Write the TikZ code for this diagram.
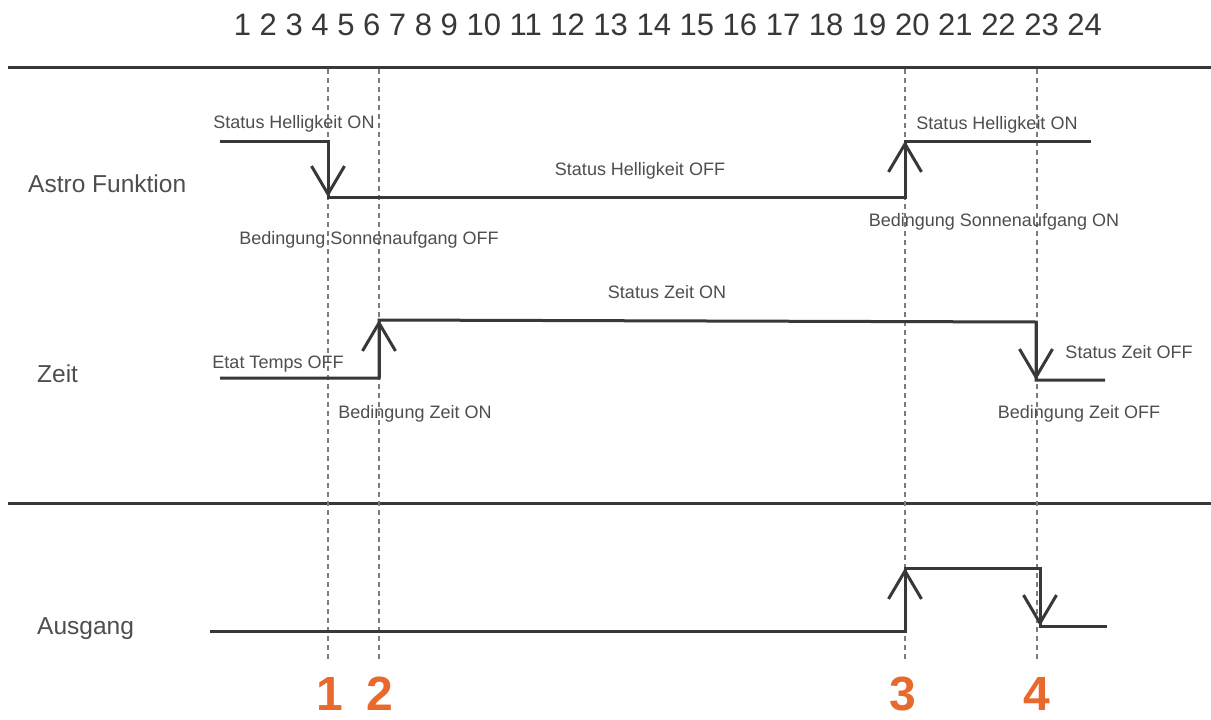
\documentclass[tikz,border=0pt]{standalone}
\usepackage{fontspec}
\setmainfont{Liberation Sans}
\usetikzlibrary{arrows.meta}
\definecolor{ink}{HTML}{383838}
\definecolor{txt}{HTML}{4E4E4E}
\definecolor{guidegray}{HTML}{7C7C7C}
\definecolor{orng}{HTML}{E8692C}
\begin{document}
\begin{tikzpicture}[x=1pt,y=-1pt,
  sig/.style={draw=ink,line width=3pt},
  edgearrow/.style={draw=ink,line width=3pt,-{Straight Barb[length=28pt,width=33pt]}},
  guide/.style={draw=guidegray,line width=1.2pt,dash pattern=on 5pt off 4pt},
  divider/.style={draw=ink,line width=3pt},
  lbl/.style={font=\fontsize{18}{20}\selectfont,text=txt,inner sep=0pt,anchor=base},
  rowlbl/.style={font=\fontsize{24.5}{28}\selectfont,text=txt,inner sep=0pt,anchor=base west},
  evnum/.style={font=\fontsize{48}{50}\selectfont\bfseries,text=orng,inner sep=0pt,anchor=base},
]
\useasboundingbox (0,0) rectangle (1211,720);
\fill[white] (0,0) rectangle (1211,720);

% hour scale
\node[font=\fontsize{31}{34}\selectfont,text=ink,inner sep=0pt,anchor=base] (hours) at (668,35)
  {1 2 3 4 5 6 7 8 9 10 11 12 13 14 15 16 17 18 19 20 21 22 23 24};

% dividers
\draw[divider] (8,67) -- (1211,67);
\draw[divider] (8,503) -- (1211,503);

% guide lines
\foreach \gx/\gn in {328/g1,379/g2,905/g3,1037/g4}{
  \coordinate (\gn top) at (\gx,69);
  \coordinate (\gn bot) at (\gx,659);
  \draw[guide] (\gn top) -- (\gn bot);
}

% row labels
\node[rowlbl] (astro) at (28,192) {Astro Funktion};
\node[rowlbl] (zeit) at (37,382) {Zeit};
\node[rowlbl] (ausgang) at (37,634) {Ausgang};

% Astro signal
\coordinate (a0) at (220,141);
\coordinate (a1) at (328,141);
\coordinate (a2) at (328,197);
\coordinate (a3) at (905,197);
\coordinate (a4) at (905,141);
\coordinate (a5) at (1091,141);
\draw[sig] (a0) -- (a1) -- (a2) -- (a3) -- (a4) -- (a5);
\draw[edgearrow] (a1) -- (a2);
\draw[edgearrow] (a3) -- (a4);

% Zeit signal
\coordinate (z0) at (220,378);
\coordinate (z1) at (379,378);
\coordinate (z2) at (379,320);
\coordinate (z3) at (1036,322);
\coordinate (z4) at (1036,380);
\coordinate (z5) at (1105,380);
\draw[sig] (z0) -- (z1) -- (z2) -- (z3) -- (z4) -- (z5);
\draw[edgearrow] (z1) -- (z2);
\draw[edgearrow] (z3) -- (z4);

% Ausgang signal
\coordinate (o0) at (210,631);
\coordinate (o1) at (905,631);
\coordinate (o2) at (905,568);
\coordinate (o3) at (1040,568);
\coordinate (o4) at (1040,626);
\coordinate (o5) at (1107,626);
\draw[sig] (o0) -- (o1) -- (o2) -- (o3) -- (o4) -- (o5);
\draw[edgearrow] (o1) -- (o2);
\draw[edgearrow] (o3) -- (o4);

% labels
\node[lbl] (l1) at (294,128.5) {Status Helligkeit ON};
\node[lbl] (l2) at (640,175.5) {Status Helligkeit OFF};
\node[lbl] (l3) at (369,244.5) {Bedingung Sonnenaufgang OFF};
\node[lbl] (l4) at (997,129.5) {Status Helligkeit ON};
\node[lbl] (l5) at (994,226.5) {Bedingung Sonnenaufgang ON};
\node[lbl] (l6) at (667,298.5) {Status Zeit ON};
\node[lbl] (l7) at (278,368.5) {Etat Temps OFF};
\node[lbl] (l8) at (415,418.5) {Bedingung Zeit ON};
\node[lbl] (l9) at (1129,358.5) {Status Zeit OFF};
\node[lbl] (l10) at (1079,418.5) {Bedingung Zeit OFF};

% event numbers
\node[evnum] (e1) at (330,710) {1};
\node[evnum] (e2) at (380,710) {2};
\node[evnum] (e3) at (903,710) {3};
\node[evnum] (e4) at (1037,710) {4};
\end{tikzpicture}
\end{document}
